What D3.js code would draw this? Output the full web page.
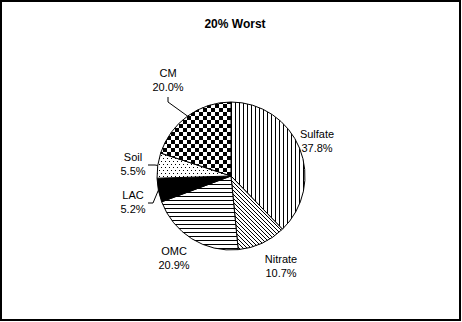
<!DOCTYPE html>
<html>
<head>
<meta charset="utf-8">
<script src="https://cdn.jsdelivr.net/npm/d3@7"></script>
<style>
  html, body { margin: 0; padding: 0; background: #fff; }
  svg { display: block; }
  text { font-family: "Liberation Sans", Arial, sans-serif; fill: #000; }
</style>
</head>
<body>
<svg id="chart" width="462" height="322"></svg>
<script>
// Composition of the 20% worst days (percent of total)
const species = ["Sulfate", "Nitrate", "OMC", "LAC", "Soil", "CM"];
const shares  = [37.8, 10.7, 20.9, 5.2, 5.5, 20.0];
const fills   = ["vert", "diag", "horiz", "solid", "dots", "checker"];
const title   = "20% Worst";

// Label placement relative to the pie centre, and optional leader elbows
const labelOffsets = [
  { dx: 86,  dy: -35 },
  { dx: 50,  dy: 90 },
  { dx: -57, dy: 82 },
  { dx: -98, dy: 26 },
  { dx: -98, dy: -12 },
  { dx: -63, dy: -96 }
];
const leaders = [null, null, null,
  [[-83, 27], [-78, 27]],
  [[-83, -11], [-76, -11]],
  [[-63, -79], [-63, -74]]
];

const W = 462, H = 322;
const cx = 231, cy = 176, R = 74;

const svg = d3.select("#chart");

// frame
svg.append("rect")
  .attr("x", 1).attr("y", 1).attr("width", W - 3).attr("height", H - 3)
  .attr("fill", "#fff").attr("stroke", "#000").attr("stroke-width", 2);

// fill patterns
const defs = svg.append("defs");
function pattern(id, w, h) {
  return defs.append("pattern").attr("id", id)
    .attr("patternUnits", "userSpaceOnUse")
    .attr("width", w).attr("height", h);
}
let p = pattern("vert", 4, 4);
p.append("rect").attr("width", 4).attr("height", 4).attr("fill", "#fff");
p.append("rect").attr("x", 0).attr("width", 1).attr("height", 4).attr("fill", "#000");

p = pattern("horiz", 4, 4);
p.append("rect").attr("width", 4).attr("height", 4).attr("fill", "#fff");
p.append("rect").attr("y", 0).attr("width", 4).attr("height", 1).attr("fill", "#000");

p = pattern("diag", 4, 4);
p.append("rect").attr("width", 4).attr("height", 4).attr("fill", "#fff");
for (let i = 0; i < 4; i++) {
  p.append("rect").attr("x", i).attr("y", i).attr("width", 1).attr("height", 1).attr("fill", "#000");
}

p = pattern("checker", 8, 8);
p.append("rect").attr("width", 8).attr("height", 8).attr("fill", "#fff");
p.append("rect").attr("x", 0).attr("y", 0).attr("width", 4).attr("height", 4).attr("fill", "#000");
p.append("rect").attr("x", 4).attr("y", 4).attr("width", 4).attr("height", 4).attr("fill", "#000");

p = pattern("dots", 4, 6);
p.append("rect").attr("width", 4).attr("height", 6).attr("fill", "#fff");
p.append("rect").attr("x", 0).attr("y", 0).attr("width", 1).attr("height", 1).attr("fill", "#000");
p.append("rect").attr("x", 2).attr("y", 3).attr("width", 1).attr("height", 1).attr("fill", "#000");

const fillFor = k => k === "solid" ? "#000" : `url(#${k})`;

// title
svg.append("text")
  .attr("x", 235).attr("y", 28)
  .attr("text-anchor", "middle")
  .attr("font-size", 12).attr("font-weight", "bold")
  .text(title);

const data = species.map((name, i) => ({ name, value: shares[i], fill: fills[i] }));

const pie = d3.pie().sort(null).value(d => d.value).startAngle(0).endAngle(2 * Math.PI);
const arcs = pie(data);
const arc = d3.arc().innerRadius(0).outerRadius(R);

const g = svg.append("g").attr("transform", `translate(${cx},${cy})`);

g.selectAll("path.slice")
  .data(arcs)
  .join("path")
  .attr("class", "slice")
  .attr("d", arc)
  .attr("fill", d => fillFor(d.data.fill))
  .attr("stroke", "#000")
  .attr("stroke-width", 1)
  .attr("stroke-linejoin", "round");

// leader lines: label end -> elbow -> slice edge at its mid angle
arcs.forEach((a, i) => {
  const pts = leaders[i];
  if (!pts) return;
  const mid = (a.startAngle + a.endAngle) / 2;
  const edge = [R * Math.sin(mid), -R * Math.cos(mid)];
  g.append("path")
    .attr("d", d3.line()([pts[0], pts[1], edge]))
    .attr("fill", "none").attr("stroke", "#000").attr("stroke-width", 1);
});

// labels: name and percentage
const fmt = d3.format(".1f");
const labels = g.selectAll("text.lbl")
  .data(arcs)
  .join("text")
  .attr("class", "lbl")
  .attr("text-anchor", "middle")
  .attr("font-size", 11)
  .attr("transform", (d, i) => `translate(${labelOffsets[i].dx},${labelOffsets[i].dy})`);
labels.append("tspan").attr("x", 0).attr("y", -3).text(d => d.data.name);
labels.append("tspan").attr("x", 0).attr("y", 11).text(d => fmt(d.data.value) + "%");
</script>
</body>
</html>
